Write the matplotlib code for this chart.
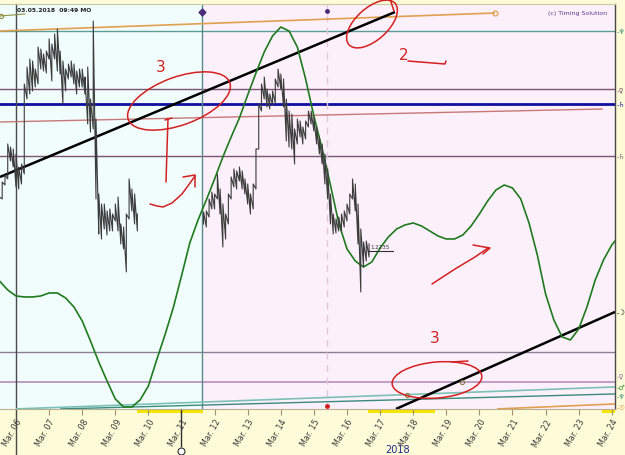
import numpy as np
import pandas as pd
import matplotlib
matplotlib.use("Agg")
import matplotlib.pyplot as plt
import matplotlib.dates as mdates
from matplotlib.patches import Ellipse

plt.rcParams.update({"font.family": ["DejaVu Sans"]})

BG_FIG = "#fdfbd8"
BG_LEFT = "#f1fdfd"
BG_RIGHT = "#fcf0fb"
RED = "#d42020"
GREEN = "#1f7a1f"
BAR = "#3c3c3c"

# ── price bars (2 hour bars, chart level units) ─────────────────
seg1_start = "2018-03-05 12:00"
seg1_high = [212, 227, 234, 265, 262, 260, 255, 242, 245, 325,
             342, 350, 348, 340, 362, 360, 355, 358, 370, 365,
             375, 380, 358, 348, 340, 345, 348, 345, 338, 340,
             340, 332, 342, 310, 388, 290, 215, 205, 205, 198,
             200, 195, 205, 212, 185, 182, 195, 230, 220, 215, 195]
seg1_low = [202, 210, 224, 230, 248, 242, 222, 220, 225, 235,
            310, 315, 318, 322, 325, 340, 338, 336, 350, 328,
            350, 338, 335, 305, 318, 330, 332, 325, 315, 322,
            322, 315, 285, 277, 280, 210, 175, 170, 180, 174,
            178, 178, 188, 178, 165, 160, 137, 190, 198, 185, 178]

seg2_start = "2018-03-11 16:00"
seg2_high = [197, 198, 210, 217, 215, 235, 220, 205, 195, 215,
             232, 240, 238, 242, 238, 230, 225, 215, 225, 260,
             305, 325, 332, 320, 315, 318, 330, 340, 335, 330,
             310, 298, 295, 280, 290, 288, 282, 288, 298, 298,
             292, 282, 272, 265, 255, 240, 215, 195, 190, 192,
             195, 198, 205, 215, 230, 225, 205, 180, 167, 168, 165]
seg2_low = [185, 182, 192, 200, 200, 210, 195, 162, 170, 185,
            210, 222, 220, 228, 220, 215, 205, 195, 200, 220,
            260, 298, 310, 302, 300, 304, 306, 322, 320, 302,
            268, 262, 260, 245, 265, 272, 265, 270, 282, 285,
            278, 265, 255, 245, 225, 210, 185, 175, 176, 178,
            178, 182, 188, 195, 210, 198, 165, 117, 142, 148, 152]

last_price_label = "1.2235"
last_price_level = 158

# ── projection cycle (6 hour steps) ─────────────────────────────
cycle_start = "2018-03-05 12:00"
cycle_level = [128, 119, 113, 112, 112, 113, 116, 116, 111, 102,
               88, 68, 47, 28, 10, 2, 2, 9, 23, 49,
               74, 101, 133, 166, 189, 209, 230, 252, 272, 291,
               314, 336, 357, 373, 382, 378, 362, 330, 293, 260,
               224, 186, 160, 148, 142, 147, 161, 172, 180, 184,
               186, 183, 178, 173, 170, 170, 174, 183, 195, 208,
               219, 224, 221, 210, 186, 154, 115, 89, 72, 69,
               80, 102, 129, 149, 164, 174]

# ── planetary levels ────────────────────────────────────────────
hline_levels = [378, 320, 305, 253, 57, 27]
hline_colors = ["#5a9e96", "#7a5470", "#1010a0", "#7a5470", "#8a8090", "#b48ebc"]
hline_widths = [1.0, 1.0, 2.0, 1.0, 1.0, 1.2]

sloped_lines = {
    "brown": (["2018-03-05 12:24", "2018-03-23 17:30"], [287, 300]),
    "teal_a": (["2018-03-06 00:00", "2018-03-24 02:20"], [0, 22]),
    "teal_b": (["2018-03-07 08:00", "2018-03-24 02:20"], [0, 15]),
    "orange_top": (["2018-03-05 12:24", "2018-03-20 11:15"], [378, 396]),
    "orange_bot": (["2018-03-20 12:45", "2018-03-24 02:20"], [0, 5]),
    "black_top": (["2018-03-05 12:24", "2018-03-17 10:48"], [232, 397]),
    "black_bot": (["2018-03-17 11:30", "2018-03-24 02:20"], [0, 97]),
}
sloped_styles = {
    "brown": dict(color="#c87878", lw=1.0),
    "teal_a": dict(color="#7cc0b4", lw=1.2),
    "teal_b": dict(color="#3a8a7c", lw=1.0),
    "orange_top": dict(color="#e0a050", lw=1.2),
    "orange_bot": dict(color="#e0a050", lw=1.2),
    "black_top": dict(color="black", lw=1.8),
    "black_bot": dict(color="black", lw=1.8),
}

right_glyphs = ["♆", "♀", "♄", "♄", "☽", "♀", "♂", "♆", "☉"]
right_glyph_levels = [378, 320, 305, 253, 97, 34, 22, 13, 2]
right_glyph_colors = ["#3a8a7c", "#7a5470", "#1010a0", "#7a5470", "black",
                      "#9a6aa0", "#3a8a3a", "#3a8a7c", "#e09030"]

x_start = pd.Timestamp("2018-03-05 12:24")
x_end = pd.Timestamp("2018-03-24 02:20")
zone_split = pd.Timestamp("2018-03-11 14:53")
now_line = pd.Timestamp("2018-03-15 09:36")
highlight_spans = [("2018-03-09 15:50", "2018-03-11 15:36"),
                   ("2018-03-16 15:07", "2018-03-18 15:50"),
                   ("2018-03-23 16:48", "2018-03-24 02:20")]


def bar_path(start, highs, lows):
    t = pd.date_range(start, periods=len(highs), freq="2h")
    xs = np.repeat(t.values, 2)
    ys = np.column_stack([lows, highs]).ravel()
    return xs, ys


fig = plt.figure(figsize=(6.25, 4.56), dpi=100, facecolor=BG_FIG)
ax = fig.add_axes([0.0, 0.101, 0.984, 0.888])
ax.set_xlim(x_start, x_end)
ax.set_ylim(0, 405)
ax.set_facecolor(BG_RIGHT)
ax.axvspan(x_start, zone_split, color=BG_LEFT, zorder=0, lw=0)

# planetary lines
for lvl, c, w in zip(hline_levels, hline_colors, hline_widths):
    ax.axhline(lvl, color=c, lw=w, zorder=2)
for key, (ts, lv) in sloped_lines.items():
    ax.plot(pd.to_datetime(ts), lv, zorder=3, solid_capstyle="butt", **sloped_styles[key])
ts, lv = sloped_lines["orange_top"]
ax.plot(pd.Timestamp(ts[1]), lv[1], "o", ms=3.5, mfc="none", mec="#e0a050", mew=0.9, zorder=4)
ax.plot(pd.Timestamp("2018-03-17 19:30"), 14, "o", ms=3, mfc="none", mec="#808040", mew=0.8, zorder=4)
ax.plot(pd.Timestamp("2018-03-19 11:20"), 27, "o", ms=3, mfc="none", mec="#808040", mew=0.8, zorder=4)

# vertical markers
ax.axvline(pd.Timestamp("2018-03-06"), ymin=-0.114, ymax=1, color="#4a4a4a", lw=1.0, clip_on=False, zorder=2)
ax.axvline(zone_split, color="#5a8a88", lw=1.0, zorder=2)
ax.plot(zone_split, 397, marker="D", ms=3.5, color="#4b2c7a", zorder=5)
ax.axvline(now_line, color="#e0c8d8", lw=1.0, ls=(0, (5, 4)), zorder=2)
ax.plot(now_line, 398, "o", ms=2.5, color="#4b2c7a", zorder=5)
ax.plot(now_line, 3, "o", ms=2.5, color="#d02020", zorder=5)
mar11 = pd.Timestamp("2018-03-11")
ax.plot([mar11, mar11], [0, -0.092], transform=ax.get_xaxis_transform(),
        color="#303030", lw=1.0, clip_on=False)
ax.plot(mar11, -0.103, "o", ms=5, mfc="white", mec="#303030", mew=0.8,
        transform=ax.get_xaxis_transform(), clip_on=False)

# price
for start, hi, lo in [(seg1_start, seg1_high, seg1_low), (seg2_start, seg2_high, seg2_low)]:
    xs, ys = bar_path(start, hi, lo)
    ax.plot(xs, ys, color=BAR, lw=0.8, zorder=6)
last_t = pd.date_range(seg2_start, periods=len(seg2_high), freq="2h")[-1]
ax.plot([last_t, last_t + pd.Timedelta(hours=17)], [last_price_level] * 2, color="#303030", lw=0.8, zorder=6)
ax.text(last_t + pd.Timedelta(hours=1), last_price_level + 2, last_price_label,
        fontsize=4, color="#303030", va="bottom", zorder=7)

# cycle projection
ct = pd.date_range(cycle_start, periods=len(cycle_level), freq="6h")
ax.plot(ct, cycle_level, color=GREEN, lw=1.2, zorder=5)

# yellow highlight under axis
for a, b in highlight_spans:
    ax.axvspan(pd.Timestamp(a), pd.Timestamp(b), ymin=-0.011, ymax=0.0,
               color="#f5e400", lw=0, clip_on=False, zorder=1)

# axis styling
ax.set_yticks([])
ax.spines["left"].set_visible(False)
ax.spines["top"].set_color("#c8c8a8")
ax.spines["top"].set_linewidth(0.8)
ax.spines["bottom"].set_color("#b8b090")
ax.spines["bottom"].set_linewidth(0.8)
ax.spines["right"].set_color("#4a4a4a")
ax.spines["right"].set_linewidth(1.0)
ax.xaxis.set_major_locator(mdates.DayLocator())
ax.xaxis.set_major_formatter(mdates.DateFormatter("%b. %d"))
ax.tick_params(axis="x", direction="out", length=4, width=0.8, color="#a09070",
               labelsize=5.8, labelcolor="#3a3a3a", pad=2)
for lbl in ax.get_xticklabels():
    lbl.set_rotation(60)
    lbl.set_ha("right")
    lbl.set_va("top")
    lbl.set_rotation_mode("anchor")
ax.xaxis.get_major_ticks()[5].tick1line.set_color("#e06000")

for g, lvl, c in zip(right_glyphs, right_glyph_levels, right_glyph_colors):
    ax.text(1.002, lvl, "-" + g, transform=ax.get_yaxis_transform(), fontsize=5,
            color=c, va="center", ha="left", clip_on=False)

fig.text(398 / 625, 1 - 450 / 456, "2018", ha="center", va="center", fontsize=7, color="#1a2a80")
fig.text(17 / 625, 1 - 10 / 456, "03.05.2018  09:49 MO", ha="left", va="center",
         fontsize=4.3, fontweight="bold", color="#202020")
fig.text(607 / 625, 1 - 13 / 456, "(c) Timing Solution", ha="right", va="center",
         fontsize=4.5, color="#5a3a8a")

# ── hand-drawn red markup (figure pixel coordinates) ────────────
ov = fig.add_axes([0, 0, 1, 1])
ov.set_xlim(0, 625)
ov.set_ylim(456, 0)
ov.axis("off")
ov.patch.set_alpha(0)

ov.plot([0, 25], [17, 15], color="#909040", lw=0.8)
ov.plot(1, 17, "o", ms=3, mfc="none", mec="#909040", mew=0.8)

for cx, cy, w, h, ang in [(179, 102, 108, 48, -20), (372, 25, 62, 32, -42), (437, 381, 90, 36, -5)]:
    ov.add_patch(Ellipse((cx, cy), w, h, angle=ang, fill=False, ec=RED, lw=1.1))

strokes = [
    [(165, 121), (172, 119)],
    [(168, 120), (167, 150), (166, 183)],
    [(150, 205), (157, 207), (163, 208), (172, 204), (182, 195), (190, 184), (195, 177)],
    [(183, 178), (195, 176), (195, 188)],
    [(394, 12), (390, 0)],
    [(408, 62), (445, 65), (446, 62)],
    [(432, 285), (455, 270), (475, 258), (488, 249)],
    [(473, 246), (490, 249), (483, 255)],
    [(452, 363), (468, 362)],
]
for s in strokes:
    xs, ys = zip(*s)
    ov.plot(xs, ys, color=RED, lw=1.1, solid_capstyle="round")

ov.text(161, 67, "3", color=RED, fontsize=11, ha="center", va="center")
ov.text(404, 55, "2", color=RED, fontsize=11, ha="center", va="center")
ov.text(435, 339, "3", color=RED, fontsize=11, ha="center", va="center")

fig.savefig("out.png", dpi=100, facecolor=BG_FIG)
